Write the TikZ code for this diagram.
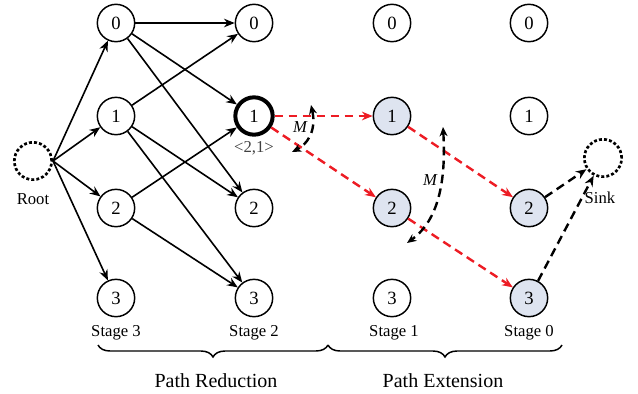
\documentclass[tikz,border=0pt]{standalone}
\usepackage{fontspec}
\setmainfont{Liberation Serif}
\usetikzlibrary{arrows.meta,decorations.pathreplacing}
\definecolor{extfill}{RGB}{222,228,240}
\definecolor{extred}{RGB}{237,28,36}

\begin{document}
\begin{tikzpicture}[x=0.75pt,y=-0.75pt,
  st/.style={draw,circle,line width=1.1pt,minimum size=28pt,inner sep=0pt,font=\fontsize{14}{14}\selectfont},
  ext/.style={st,fill=extfill},
  term/.style={draw,circle,line width=2pt,dash pattern=on 2.2pt off 1.6pt,minimum size=28pt,inner sep=0pt},
  arr/.style={-{Stealth[length=8pt,width=6.5pt]},line width=1.2pt},
  redarr/.style={arr,extred,line width=1.8pt,dash pattern=on 6.5pt off 4pt},
  blkarr/.style={arr,line width=1.8pt,dash pattern=on 6.5pt off 4pt},
  dbl/.style={{Stealth[length=7pt,width=6pt]}-{Stealth[length=7pt,width=6pt]},line width=1.8pt,dash pattern=on 6.5pt off 4pt},
  lbl/.style={font=\fontsize{12.5}{12.5}\selectfont}]
\useasboundingbox (0,0) rectangle (638,393);

% root and sink
\node[term] (root) at (33,161) {};
\node[lbl] (rootlbl) at (33,199) {Root};
\node[term] (sink) at (603,158) {};
\node[lbl] (sinklbl) at (600,198) {Sink};

% the four stages
\foreach \i/\y in {0/23,1/116,2/208,3/298} {
  \node[st] (a\i) at (116,\y) {\i};
}
\foreach \i/\y in {0/23,2/208,3/298} {
  \node[st] (b\i) at (254,\y) {\i};
}
\node[st,line width=3pt] (b1) at (254,116) {1};
\node[lbl,black!75] (b1lbl) at (254,148) {<2,1>};
\node[st] (c0) at (392,23) {0};
\node[ext] (c1) at (392,116) {1};
\node[ext] (c2) at (392,208) {2};
\node[st] (c3) at (392,298) {3};
\node[st] (d0) at (529,23) {0};
\node[st] (d1) at (529,116) {1};
\node[ext] (d2) at (529,208) {2};
\node[ext] (d3) at (529,298) {3};

\node[lbl] (s3) at (116,333) {Stage 3};
\node[lbl] (s2) at (254,333) {Stage 2};
\node[lbl] (s1) at (394,333) {Stage 1};
\node[lbl] (s0) at (529,333) {Stage 0};

% edges
\foreach \i in {0,...,3}
  \draw[arr] (root.east) -- (a\i);
\foreach \s/\t in {0/0,0/1,0/2,1/0,1/2,1/3,2/1,2/3}
  \draw[arr] (a\s) -- (b\t);

\draw[redarr] (b1) -- (c1);
\draw[redarr] (b1) -- (c2);
\draw[redarr] (c1) -- (d2);
\draw[redarr] (c2) -- (d3);
\draw[blkarr] (d2) -- (sink);
\draw[blkarr] (d3) -- (sink);

% M arcs
\coordinate (m1s) at (311,105);
\coordinate (m1e) at (292,152);
\coordinate (m2s) at (443,127);
\coordinate (m2e) at (407,243);
\draw[dbl] (m1s) .. controls (317,132) and (306,145) .. (m1e);
\draw[dbl] (m2s) .. controls (447,195) and (432,225) .. (m2e);
\node[lbl,font=\fontsize{12.5}{12.5}\itshape] (m1) at (300,127) {M};
\node[lbl,font=\fontsize{12.5}{12.5}\itshape] (m2) at (430,180) {M};

% braces
\coordinate (br1) at (98,345);
\coordinate (br2) at (328,345);
\coordinate (br3) at (562,345);
\draw[line width=1.1pt,decorate,decoration={brace,mirror,amplitude=9pt}] (br1) -- (br2);
\draw[line width=1.1pt,decorate,decoration={brace,mirror,amplitude=9pt}] (br2) -- (br3);
\node[font=\fontsize{15}{15}\selectfont] (red) at (216,381) {Path Reduction};
\node[font=\fontsize{15}{15}\selectfont] (ext) at (443,381) {Path Extension};
\end{tikzpicture}
\end{document}
